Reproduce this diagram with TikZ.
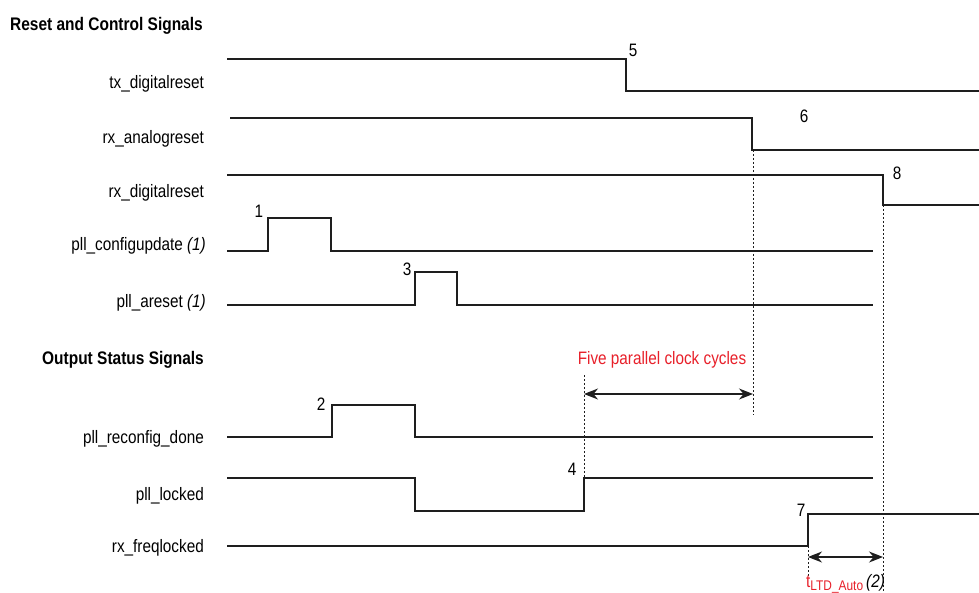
\documentclass[tikz,border=0pt]{standalone}
\usepackage{fontspec}
\setmainfont[FakeStretch=0.85]{Liberation Sans}
\usetikzlibrary{arrows.meta}
\definecolor{sig}{HTML}{1E1E1E}
\definecolor{redtxt}{HTML}{E8202A}
\begin{document}
\begin{tikzpicture}[x=1pt,y=-1pt,
  wave/.style={draw=sig,line width=1.1pt},
  guide/.style={draw=sig,line width=0.9pt,dash pattern=on 2pt off 2pt},
  span/.style={draw=sig,line width=1.2pt,{Stealth[length=14pt,width=11pt]}-{Stealth[length=14pt,width=11pt]}},
  lbl/.style={anchor=base east,inner sep=0pt,font=\fontsize{18}{20}\selectfont},
  ttl/.style={anchor=base west,inner sep=0pt,font=\fontsize{18.2}{20}\selectfont\bfseries},
  num/.style={inner sep=0pt,font=\fontsize{18}{20}\selectfont}]
\useasboundingbox (0,0) rectangle (979,593);
\fill[white] (0,0) rectangle (979,593);
% titles
\node[ttl] (t1) at (10,31) {Reset and Control Signals};
\node[ttl] (t2) at (42,364) {Output Status Signals};
% labels
\node[lbl] (l1) at (204,89) {tx\_digitalreset};
\node[lbl] (l2) at (204,144) {rx\_analogreset};
\node[lbl] (l3) at (204,198) {rx\_digitalreset};
\node[lbl] (l4) at (206,251) {pll\_configupdate \textit{(1)}};
\node[lbl] (l5) at (206,308) {pll\_areset \textit{(1)}};
\node[lbl] (l6) at (204,443) {pll\_reconfig\_done};
\node[lbl] (l7) at (204,500) {pll\_locked};
\node[lbl] (l8) at (204,552) {rx\_freqlocked};
% waveforms
\draw[wave] (227,59) -- (626,59) -- (626,91) -- (979,91);
\draw[wave] (230,118) -- (752,118) -- (752,150) -- (979,150);
\draw[wave] (227,175) -- (883,175) -- (883,205) -- (979,205);
\draw[wave] (227,251) -- (268,251) -- (268,218) -- (331,218) -- (331,251) -- (873,251);
\draw[wave] (227,305) -- (415,305) -- (415,272) -- (457,272) -- (457,305) -- (873,305);
\draw[wave] (227,437) -- (332,437) -- (332,405) -- (415,405) -- (415,437) -- (873,437);
\draw[wave] (227,478) -- (415,478) -- (415,511) -- (584,511) -- (584,478) -- (873,478);
\draw[wave] (227,546) -- (808,546) -- (808,514) -- (979,514);
% event numbers
\node[num] (n1) at (259,211) {1};
\node[num] (n2) at (321,404) {2};
\node[num] (n3) at (407,269) {3};
\node[num] (n4) at (572,469) {4};
\node[num] (n5) at (633,50) {5};
\node[num] (n6) at (804,116) {6};
\node[num] (n7) at (801,510) {7};
\node[num] (n8) at (897,173) {8};
% guides
\coordinate (g1a) at (753,150); \coordinate (g1b) at (753,415);
\coordinate (g2a) at (883,205); \coordinate (g2b) at (883,592);
\coordinate (g3a) at (584,375); \coordinate (g3b) at (584,478);
\coordinate (g4a) at (808,546); \coordinate (g4b) at (808,576);
\draw[guide] (g1a) -- (g1b);
\draw[guide] (g2a) -- (g2b);
\draw[guide] (g3a) -- (g3b);
\draw[guide] (g4a) -- (g4b);
% spans
\coordinate (a1) at (584,394); \coordinate (a2) at (753,394);
\coordinate (b1) at (808,557); \coordinate (b2) at (883,557);
\draw[span] (a1) -- (a2);
\draw[span] (b1) -- (b2);
\node[inner sep=0pt,text=redtxt,font=\fontsize{18}{20}\selectfont] (five) at (662,360) {Five parallel clock cycles};
\node[anchor=base west,inner sep=0pt,font=\fontsize{18}{20}\selectfont] (tltd) at (806,587) {\textcolor{redtxt}{t\raisebox{-3.5pt}{\fontsize{14}{15}\selectfont LTD\_Auto}}\,\textit{(2)}};
\end{tikzpicture}
\end{document}
